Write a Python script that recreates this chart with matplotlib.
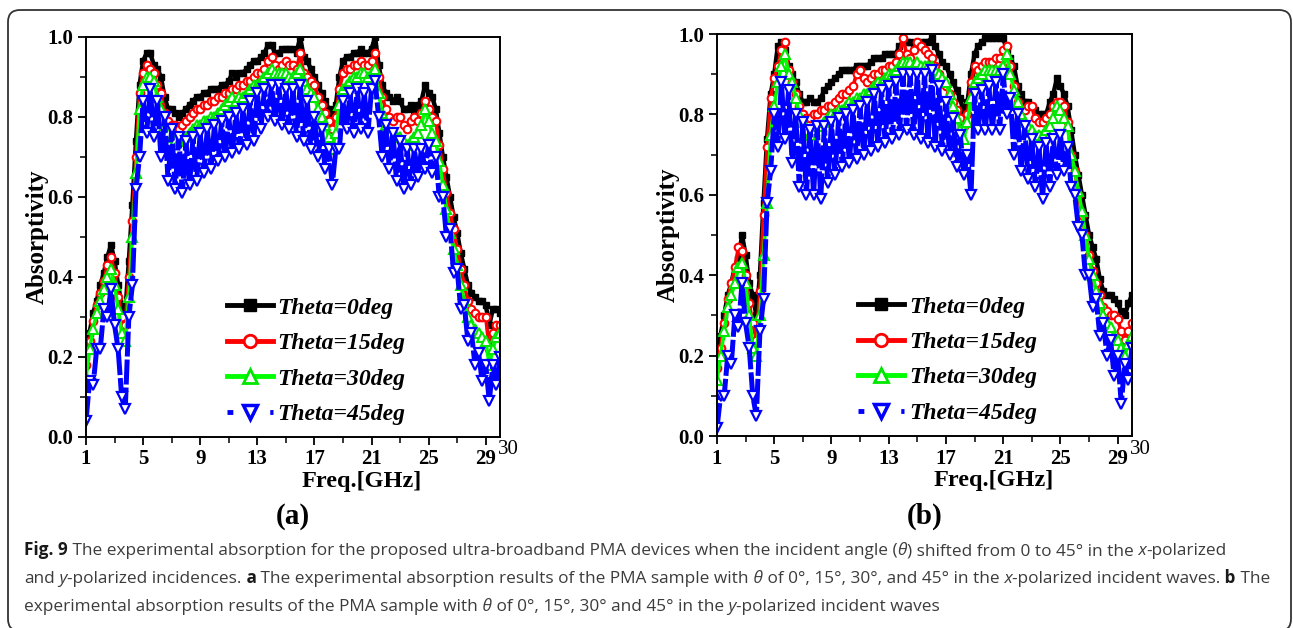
import numpy as np
import matplotlib
matplotlib.use('Agg')
import matplotlib.pyplot as plt
from matplotlib.patches import FancyBboxPatch
from matplotlib.lines import Line2D
from matplotlib.transforms import IdentityTransform

# frequency sweep, 0.25 GHz steps from 1 to 30 GHz
freq = np.arange(1.0, 30.001, 0.25)

# (a) x-polarized
a_0deg = [0.20, 0.26, 0.31, 0.34, 0.38, 0.41, 0.45, 0.48, 0.44, 0.38, 0.33, 0.31,
          0.44, 0.58, 0.74, 0.88, 0.94, 0.96, 0.96, 0.93, 0.92, 0.90, 0.85, 0.82,
          0.82, 0.81, 0.80, 0.81, 0.82, 0.83, 0.84, 0.85, 0.85, 0.86, 0.86, 0.87,
          0.87, 0.87, 0.88, 0.88, 0.89, 0.91, 0.90, 0.91, 0.91, 0.92, 0.93, 0.94,
          0.94, 0.95, 0.96, 0.98, 0.98, 0.96, 0.96, 0.97, 0.97, 0.97, 0.97, 0.96,
          1.00, 0.95, 0.94, 0.92, 0.90, 0.88, 0.86, 0.84, 0.82, 0.80, 0.83, 0.90,
          0.94, 0.95, 0.95, 0.96, 0.96, 0.97, 0.96, 0.96, 0.97, 1.00, 0.93, 0.88,
          0.86, 0.85, 0.84, 0.85, 0.84, 0.82, 0.82, 0.83, 0.80, 0.83, 0.84, 0.88,
          0.86, 0.85, 0.82, 0.76, 0.70, 0.65, 0.60, 0.55, 0.51, 0.46, 0.42, 0.38,
          0.36, 0.35, 0.34, 0.34, 0.33, 0.28, 0.32, 0.32, 0.31]
a_15deg = [0.18, 0.24, 0.29, 0.33, 0.36, 0.39, 0.43, 0.45, 0.41, 0.35, 0.30, 0.28,
           0.40, 0.54, 0.70, 0.86, 0.91, 0.93, 0.92, 0.91, 0.88, 0.86, 0.81, 0.79,
           0.78, 0.78, 0.77, 0.78, 0.79, 0.80, 0.81, 0.82, 0.82, 0.83, 0.83, 0.84,
           0.84, 0.85, 0.85, 0.86, 0.86, 0.87, 0.87, 0.88, 0.88, 0.89, 0.89, 0.90,
           0.91, 0.91, 0.92, 0.94, 0.95, 0.93, 0.92, 0.93, 0.94, 0.93, 0.93, 0.92,
           0.96, 0.91, 0.90, 0.89, 0.88, 0.85, 0.83, 0.81, 0.79, 0.77, 0.80, 0.87,
           0.91, 0.92, 0.92, 0.93, 0.93, 0.94, 0.93, 0.93, 0.94, 0.96, 0.90, 0.85,
           0.82, 0.80, 0.79, 0.80, 0.80, 0.78, 0.77, 0.79, 0.80, 0.79, 0.81, 0.84,
           0.82, 0.80, 0.79, 0.73, 0.67, 0.61, 0.56, 0.52, 0.47, 0.42, 0.38, 0.34,
           0.32, 0.31, 0.30, 0.30, 0.30, 0.22, 0.26, 0.28, 0.28]
a_30deg = [0.15, 0.22, 0.27, 0.31, 0.34, 0.37, 0.40, 0.42, 0.38, 0.32, 0.26, 0.24,
           0.35, 0.50, 0.66, 0.82, 0.88, 0.90, 0.90, 0.89, 0.85, 0.82, 0.78, 0.76,
           0.75, 0.74, 0.74, 0.75, 0.75, 0.76, 0.77, 0.78, 0.78, 0.79, 0.79, 0.80,
           0.80, 0.81, 0.82, 0.83, 0.84, 0.85, 0.84, 0.85, 0.85, 0.86, 0.87, 0.88,
           0.88, 0.89, 0.90, 0.91, 0.92, 0.91, 0.91, 0.91, 0.91, 0.90, 0.90, 0.91,
           0.92, 0.89, 0.87, 0.86, 0.85, 0.82, 0.80, 0.78, 0.75, 0.72, 0.76, 0.83,
           0.87, 0.88, 0.89, 0.90, 0.90, 0.91, 0.91, 0.90, 0.91, 0.92, 0.86, 0.81,
           0.78, 0.76, 0.75, 0.75, 0.75, 0.74, 0.73, 0.74, 0.75, 0.76, 0.78, 0.82,
           0.79, 0.76, 0.74, 0.69, 0.63, 0.57, 0.51, 0.47, 0.43, 0.38, 0.34, 0.30,
           0.28, 0.27, 0.26, 0.25, 0.24, 0.18, 0.22, 0.25, 0.26]
a_45deg = [0.04, 0.14, 0.13, 0.22, 0.22, 0.32, 0.30, 0.37, 0.28, 0.22, 0.10, 0.07,
           0.30, 0.38, 0.62, 0.70, 0.84, 0.76, 0.87, 0.75, 0.84, 0.70, 0.80, 0.64,
           0.77, 0.62, 0.75, 0.61, 0.74, 0.63, 0.75, 0.64, 0.76, 0.66, 0.77, 0.67,
           0.78, 0.69, 0.79, 0.70, 0.80, 0.71, 0.81, 0.72, 0.82, 0.73, 0.84, 0.74,
           0.86, 0.77, 0.87, 0.80, 0.88, 0.79, 0.88, 0.78, 0.87, 0.77, 0.87, 0.75,
           0.88, 0.74, 0.84, 0.72, 0.80, 0.70, 0.77, 0.67, 0.72, 0.63, 0.72, 0.72,
           0.84, 0.77, 0.86, 0.76, 0.87, 0.77, 0.86, 0.76, 0.87, 0.89, 0.80, 0.70,
           0.78, 0.67, 0.76, 0.64, 0.74, 0.62, 0.72, 0.63, 0.72, 0.65, 0.72, 0.67,
           0.73, 0.66, 0.70, 0.60, 0.60, 0.50, 0.52, 0.41, 0.42, 0.32, 0.33, 0.24,
           0.26, 0.18, 0.21, 0.14, 0.18, 0.09, 0.18, 0.13, 0.20]

# (b) y-polarized
b_0deg = [0.20, 0.25, 0.30, 0.35, 0.38, 0.42, 0.44, 0.50, 0.45, 0.38, 0.35, 0.30,
          0.40, 0.58, 0.74, 0.85, 0.90, 0.97, 0.98, 0.96, 0.92, 0.90, 0.88, 0.85,
          0.83, 0.83, 0.84, 0.83, 0.83, 0.84, 0.86, 0.87, 0.88, 0.89, 0.90, 0.91,
          0.91, 0.91, 0.91, 0.92, 0.92, 0.92, 0.92, 0.93, 0.94, 0.94, 0.94, 0.95,
          0.95, 0.95, 0.95, 0.97, 0.98, 0.98, 0.98, 0.97, 0.98, 0.98, 0.98, 0.98,
          0.99, 0.97, 0.95, 0.93, 0.92, 0.90, 0.88, 0.86, 0.84, 0.80, 0.83, 0.90,
          0.95, 0.97, 0.98, 0.99, 0.99, 0.99, 0.99, 0.99, 0.99, 0.96, 0.94, 0.92,
          0.87, 0.85, 0.83, 0.83, 0.82, 0.81, 0.80, 0.80, 0.80, 0.83, 0.85, 0.89,
          0.87, 0.85, 0.82, 0.76, 0.70, 0.65, 0.60, 0.55, 0.50, 0.47, 0.44, 0.39,
          0.36, 0.35, 0.35, 0.34, 0.33, 0.31, 0.30, 0.33, 0.35]
b_15deg = [0.17, 0.22, 0.28, 0.34, 0.38, 0.42, 0.47, 0.46, 0.40, 0.33, 0.28, 0.24,
           0.36, 0.55, 0.72, 0.84, 0.89, 0.92, 0.96, 0.98, 0.91, 0.88, 0.85, 0.82,
           0.80, 0.79, 0.79, 0.80, 0.80, 0.81, 0.81, 0.82, 0.82, 0.83, 0.84, 0.85,
           0.85, 0.86, 0.87, 0.90, 0.91, 0.89, 0.88, 0.89, 0.90, 0.90, 0.91, 0.91,
           0.92, 0.92, 0.93, 0.95, 0.99, 0.95, 0.94, 0.96, 0.98, 0.97, 0.96, 0.95,
           0.94, 0.92, 0.90, 0.88, 0.87, 0.85, 0.83, 0.81, 0.79, 0.77, 0.80, 0.88,
           0.92, 0.91, 0.92, 0.93, 0.93, 0.93, 0.94, 0.94, 0.96, 0.97, 0.92, 0.87,
           0.83, 0.81, 0.81, 0.82, 0.82, 0.79, 0.78, 0.78, 0.79, 0.80, 0.82, 0.83,
           0.83, 0.82, 0.78, 0.70, 0.66, 0.60, 0.55, 0.50, 0.45, 0.41, 0.38, 0.35,
           0.32, 0.31, 0.30, 0.30, 0.29, 0.26, 0.24, 0.26, 0.28]
b_30deg = [0.14, 0.20, 0.26, 0.32, 0.35, 0.38, 0.42, 0.43, 0.38, 0.30, 0.22, 0.20,
           0.30, 0.45, 0.58, 0.75, 0.82, 0.88, 0.92, 0.95, 0.90, 0.88, 0.84, 0.80,
           0.78, 0.76, 0.75, 0.76, 0.77, 0.77, 0.78, 0.79, 0.80, 0.80, 0.81, 0.81,
           0.82, 0.83, 0.83, 0.84, 0.84, 0.85, 0.85, 0.86, 0.87, 0.88, 0.88, 0.89,
           0.90, 0.90, 0.91, 0.92, 0.93, 0.93, 0.93, 0.92, 0.93, 0.92, 0.92, 0.92,
           0.92, 0.91, 0.90, 0.89, 0.88, 0.85, 0.82, 0.79, 0.76, 0.74, 0.78, 0.84,
           0.88, 0.89, 0.90, 0.91, 0.91, 0.91, 0.91, 0.91, 0.92, 0.95, 0.90, 0.86,
           0.83, 0.80, 0.78, 0.77, 0.76, 0.75, 0.75, 0.75, 0.76, 0.77, 0.79, 0.82,
           0.81, 0.79, 0.77, 0.70, 0.66, 0.61, 0.56, 0.50, 0.44, 0.40, 0.36, 0.33,
           0.30, 0.28, 0.27, 0.25, 0.24, 0.22, 0.20, 0.23, 0.25]
b_45deg = [0.02, 0.10, 0.10, 0.20, 0.18, 0.30, 0.27, 0.38, 0.28, 0.22, 0.10, 0.05,
           0.26, 0.34, 0.58, 0.66, 0.80, 0.72, 0.88, 0.74, 0.86, 0.68, 0.80, 0.62,
           0.78, 0.60, 0.76, 0.60, 0.77, 0.59, 0.77, 0.63, 0.78, 0.65, 0.79, 0.67,
           0.80, 0.68, 0.81, 0.69, 0.82, 0.70, 0.83, 0.71, 0.85, 0.72, 0.86, 0.73,
           0.87, 0.74, 0.88, 0.75, 0.90, 0.76, 0.90, 0.75, 0.90, 0.74, 0.90, 0.73,
           0.91, 0.72, 0.87, 0.71, 0.83, 0.70, 0.79, 0.67, 0.75, 0.65, 0.70, 0.60,
           0.85, 0.76, 0.86, 0.76, 0.87, 0.76, 0.88, 0.76, 0.90, 0.80, 0.84, 0.70,
           0.80, 0.66, 0.77, 0.64, 0.74, 0.62, 0.72, 0.59, 0.73, 0.62, 0.74, 0.65,
           0.75, 0.66, 0.72, 0.62, 0.60, 0.52, 0.50, 0.40, 0.40, 0.32, 0.34, 0.25,
           0.28, 0.20, 0.24, 0.15, 0.20, 0.08, 0.18, 0.14, 0.22]

labels = ['Theta=0deg', 'Theta=15deg', 'Theta=30deg', 'Theta=45deg']
xticks = [1, 5, 9, 13, 17, 21, 25, 29]

W, H = 1293, 628
plt.rcParams['font.family'] = 'Liberation Serif'
fig = plt.figure(figsize=(W / 100, H / 100), dpi=100)

styles = [
    dict(color='black', marker='s', mfc='black', mec='black', ms=5, lw=3.2, ls='-'),
    dict(color='#ff0000', marker='o', mfc='white', mec='#ff0000', ms=5.5, mew=1.5, lw=2.6, ls='-'),
    dict(color='#00ff00', marker='^', mfc='white', mec='#00e600', ms=6.5, mew=1.5, lw=2.6, ls='-'),
    dict(color='#0000ff', marker='v', mfc='white', mec='#0000ff', ms=6.5, mew=1.6, lw=3.6, ls=(0, (5, 0.6))),
]
leg_styles = [
    dict(color='black', marker='s', mfc='black', mec='black', ms=8, lw=3.5, ls='-'),
    dict(color='#ff0000', marker='o', mfc='white', mec='#ff0000', ms=9, mew=2, lw=3.5, ls='-'),
    dict(color='#00ff00', marker='^', mfc='white', mec='#00e600', ms=10, mew=2, lw=3.5, ls='-'),
    dict(color='#0000ff', marker='v', mfc='white', mec='#0000ff', ms=10, mew=2.5, lw=3.5, ls=(0, (1.2, 3.2))),
]


def add_axes_px(l, t, r, b):
    return fig.add_axes([l / W, 1 - b / H, (r - l) / W, (b - t) / H])


def draw_panel(ax, series, tag):
    for y, st in zip(series, styles):
        ax.plot(freq, y, **st)
    ax.set_xlim(1, 30)
    ax.set_ylim(0, 1.0)
    ax.set_xticks(xticks)
    ax.set_xticks([3, 7, 11, 15, 19, 23, 27], minor=True)
    ax.set_yticks([0.0, 0.2, 0.4, 0.6, 0.8, 1.0])
    ax.set_yticks([0.1, 0.3, 0.5, 0.7, 0.9], minor=True)
    ax.set_yticklabels(['0.0', '0.2', '0.4', '0.6', '0.8', '1.0'])
    ax.tick_params(which='major', direction='out', length=6, width=1.3, labelsize=15, pad=3)
    ax.tick_params(which='minor', direction='out', length=4, width=1.1)
    for lab in ax.get_xticklabels() + ax.get_yticklabels():
        lab.set_fontweight('bold')
    for sp in ax.spines.values():
        sp.set_linewidth(1.4)
    ax.annotate('30', xy=(1.0, 0.0), xycoords='axes fraction', xytext=(8, -13),
                textcoords='offset pixels', ha='center', va='center', fontsize=15)
    ax.text(-42 / 414, 0.5, 'Absorptivity', rotation=90, rotation_mode='anchor',
            ha='center', va='baseline', fontsize=18, fontweight='bold',
            transform=ax.transAxes)
    ax.text(0.667, -0.11, 'Freq.[GHz]', ha='center', va='center',
            fontsize=17.5, fontweight='bold', transform=ax.transAxes)
    ax.text(0.5, -0.2, tag, ha='center', va='center',
            fontsize=21, fontweight='bold', transform=ax.transAxes)
    handles = [Line2D([], [], **st) for st in leg_styles]
    ax.legend(handles, labels, loc='lower left', bbox_to_anchor=(141 / 414, 0.03),
              frameon=False, borderpad=0, borderaxespad=0, handlelength=1.95,
              handletextpad=0.2, labelspacing=0.59,
              prop=dict(family='Liberation Serif', weight='bold', style='italic', size=17))


ax_a = add_axes_px(86, 37, 500, 437)
draw_panel(ax_a, [a_0deg, a_15deg, a_30deg, a_45deg], '(a)')
ax_b = add_axes_px(717, 34, 1132, 436)
draw_panel(ax_b, [b_0deg, b_15deg, b_30deg, b_45deg], '(b)')

# rounded frame around the whole figure
box = FancyBboxPatch((8, -3), 1283, 621, boxstyle='round,pad=0,rounding_size=12',
                     transform=IdentityTransform(), fill=False, lw=1.3, ec='#333333')
fig.add_artist(box)

# caption with mixed styles
renderer = fig.canvas.get_renderer()
cap_size = 12.4


def rich_line(x_px, y_px, pieces):
    x = x_px
    for text, style in pieces:
        kw = dict(fontsize=cap_size, color='#3c3c3c', family='Open Sans')
        if style == 'b':
            kw.update(fontweight='bold', color='#1a1a1a')
        if style == 'i':
            kw.update(fontstyle='italic')
        t = fig.text(x / W, 1 - y_px / H, text, ha='left', va='baseline', **kw)
        x += t.get_window_extent(renderer).width


rich_line(24, 555, [('Fig. 9', 'b'),
                    (' The experimental absorption for the proposed ultra-broadband PMA devices when the incident angle (', 'r'),
                    ('θ', 'i'), (') shifted from 0 to 45° in the', 'r'), (' x', 'i'), ('-polarized', 'r')])
rich_line(24, 583, [('and', 'r'), (' y', 'i'), ('-polarized incidences.', 'r'), (' a', 'b'),
                    (' The experimental absorption results of the PMA sample with', 'r'), (' θ', 'i'),
                    (' of 0°, 15°, 30°, and 45° in the', 'r'), (' x', 'i'),
                    ('-polarized incident waves.', 'r'), (' b', 'b'), (' The', 'r')])
rich_line(24, 611, [('experimental absorption results of the PMA sample with', 'r'), (' θ', 'i'),
                    (' of 0°, 15°, 30° and 45° in the', 'r'), (' y', 'i'),
                    ('-polarized incident waves', 'r')])

fig.savefig('out.png', dpi=100)
